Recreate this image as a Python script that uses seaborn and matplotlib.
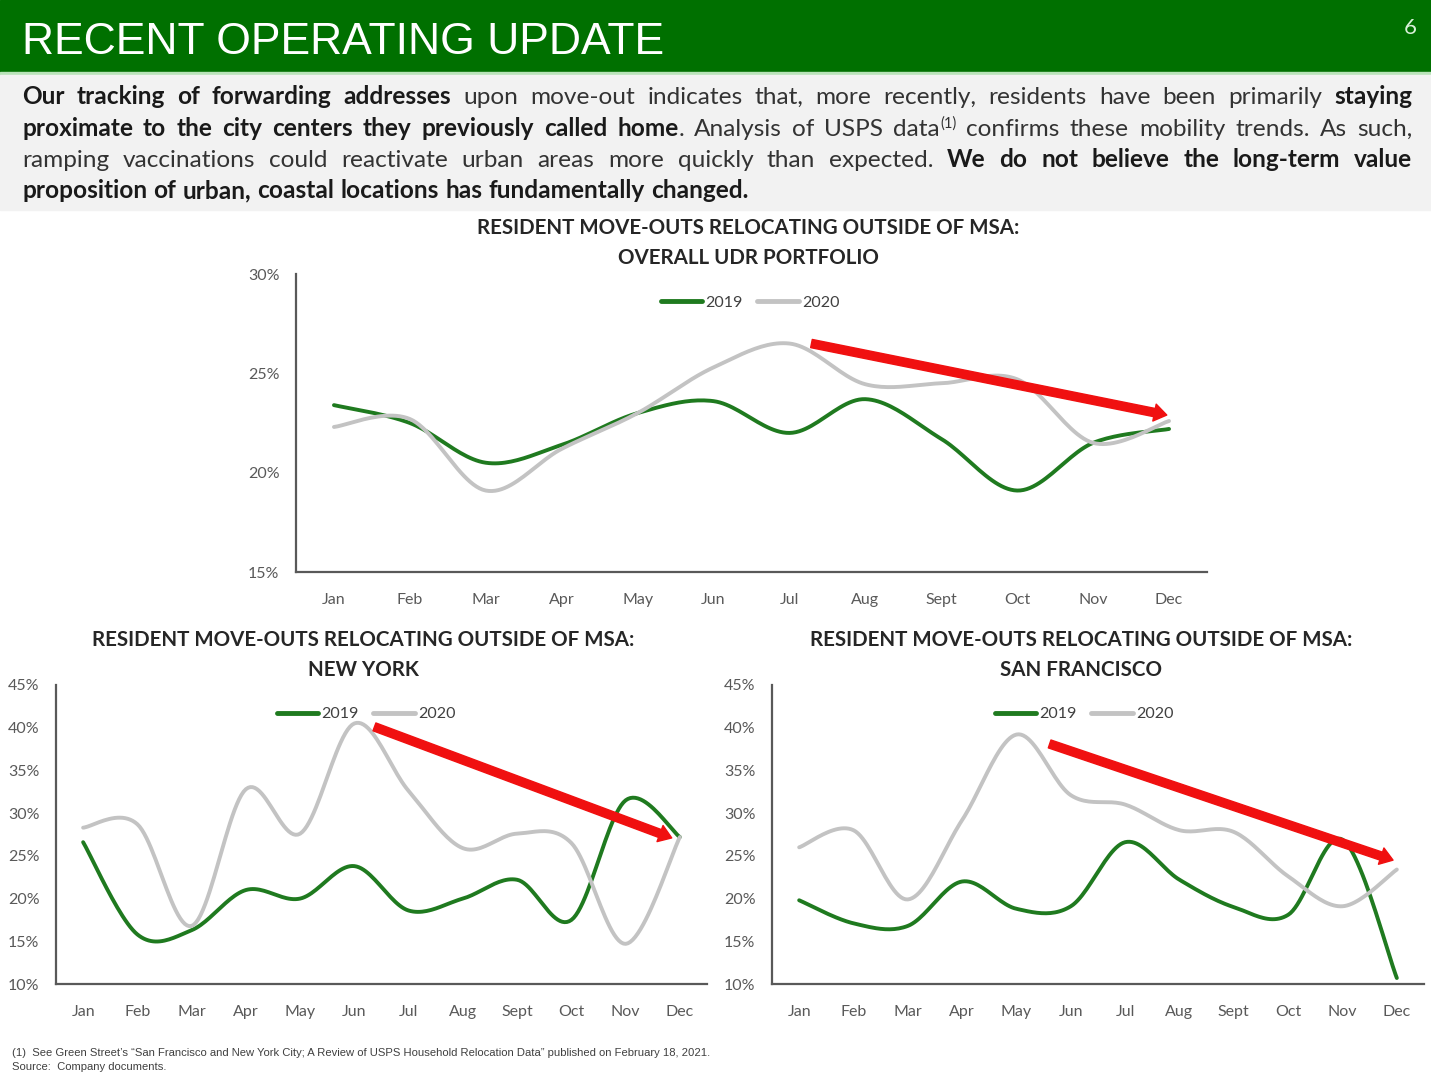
import numpy as np
import pandas as pd
import matplotlib.pyplot as plt
import seaborn as sns
from matplotlib.patches import Rectangle, FancyArrowPatch

sns.set_theme(style="white")
plt.rcParams['font.family'] = ['Lato', 'DejaVu Sans']

W, H = 1431, 1080
GREEN = '#1f7a1f'
GREY = '#c3c3c3'
HEADER = '#007000'

# Data, percent of move-outs leaving the MSA
months = ['Jan', 'Feb', 'Mar', 'Apr', 'May', 'Jun', 'Jul', 'Aug', 'Sept', 'Oct', 'Nov', 'Dec']
udr_2019 = [23.4, 22.5, 20.5, 21.4, 23.0, 23.6, 22.0, 23.7, 21.7, 19.1, 21.5, 22.2]
udr_2020 = [22.3, 22.7, 19.1, 21.2, 23.0, 25.3, 26.5, 24.45, 24.5, 24.7, 21.5, 22.6]
ny_2019 = [26.6, 15.8, 16.3, 21.0, 20.0, 23.8, 18.6, 20.0, 22.2, 17.5, 31.5, 27.2]
ny_2020 = [28.3, 28.7, 16.8, 32.8, 27.6, 40.5, 32.6, 25.9, 27.6, 26.5, 14.7, 27.2]
sf_2019 = [19.8, 17.1, 16.8, 22.0, 18.8, 19.1, 26.6, 22.2, 19.0, 18.1, 26.9, 10.7]
sf_2020 = [26.0, 28.0, 19.9, 29.2, 39.2, 32.1, 31.0, 28.0, 27.8, 22.6, 19.1, 23.4]
udr_yticks = [15, 20, 25, 30]
city_yticks = [10, 15, 20, 25, 30, 35, 40, 45]


def fx(px):
    return px / W


def fy(py):
    return 1 - py / H


def smooth(vals, n=24):
    # Excel-style smoothed line: cubic bezier through the points
    v = np.asarray(vals, float)
    x = np.arange(len(v), dtype=float)
    pv = np.concatenate([[v[0]], v, [v[-1]]])
    px = np.concatenate([[x[0]], x, [x[-1]]])
    t = np.linspace(0, 1, n, endpoint=False)[:, None]
    out_x, out_y = [], []
    for i in range(len(v) - 1):
        for p, arr in ((px, out_x), (pv, out_y)):
            a, d = p[i + 1], p[i + 2]
            b = a + (p[i + 2] - p[i]) / 6
            c = d - (p[i + 3] - p[i + 1]) / 6
            seg = (1 - t) ** 3 * a + 3 * (1 - t) ** 2 * t * b + 3 * (1 - t) * t ** 2 * c + t ** 3 * d
            arr.extend(seg.ravel())
    out_x.append(x[-1])
    out_y.append(v[-1])
    return np.array(out_x), np.array(out_y)


fig = plt.figure(figsize=(W / 100, H / 100), dpi=100)

# Header band and text box
fig.patches.append(Rectangle((0, fy(72)), 1, 72 / H, transform=fig.transFigure, color=HEADER, zorder=0))
fig.patches.append(Rectangle((0, fy(75)), 1, 3 / H, transform=fig.transFigure, color='#b9e3b9', zorder=0))
fig.patches.append(Rectangle((0, fy(210)), 1, 135 / H, transform=fig.transFigure, color='#f2f2f2', zorder=0))
fig.text(fx(22), fy(54), 'RECENT OPERATING UPDATE', family='Liberation Sans', fontsize=32,
         color='white', va='baseline', ha='left')
fig.text(fx(1410), fy(28), '6', fontsize=16, color='#d8f0d8', ha='center', va='center')

# Justified body text
body_lines = [
    ([('Our tracking of forwarding addresses', 'b'),
      (' upon move-out indicates that, more recently, residents have been primarily ', 'n'),
      ('staying', 'b')], True, 104),
    ([('proximate to the city centers they previously called home', 'b'),
      ('. Analysis of USPS data', 'n'), ('(1)', 's'),
      (' confirms these mobility trends. As such,', 'n')], True, 136),
    ([('ramping vaccinations could reactivate urban areas more quickly than expected. ', 'n'),
      ('We do not believe the long-term value', 'b')], True, 167),
    ([('proposition of urban, coastal locations has fundamentally changed.', 'b')], False, 198),
]
BODY_SIZE = 17.6
renderer = fig.canvas.get_renderer()


def piece_kw(style):
    if style == 'b':
        return dict(fontsize=BODY_SIZE, fontweight='bold', color='#1a1a1a')
    if style == 's':
        return dict(fontsize=10.5, color='#333333')
    return dict(fontsize=BODY_SIZE, color='#333333')


def to_words(runs):
    words = [[]]
    for text, style in runs:
        for k, part in enumerate(text.split(' ')):
            if k > 0:
                words.append([])
            if part:
                words[-1].append((part, style))
    return [w for w in words if w]


def text_width(s, **kw):
    t = fig.text(0, 0, s, **kw)
    w = t.get_window_extent(renderer).width
    t.remove()
    return w


x_left, x_right = 22, 1412
space_w = text_width('a b', **piece_kw('n')) - text_width('ab', **piece_kw('n'))
for runs, justify, base in body_lines:
    words = to_words(runs)
    widths = [[text_width(p, **piece_kw(st)) for p, st in w] for w in words]
    total = sum(sum(w) for w in widths)
    gap = (x_right - x_left - total) / (len(words) - 1) if justify else space_w
    x = x_left
    for w, ws in zip(words, widths):
        for (p, st), pw in zip(w, ws):
            y = base - 8 if st == 's' else base
            fig.text(fx(x), fy(y), p, ha='left', va='baseline', **piece_kw(st))
            x += pw
        x += gap


def draw_panel(rect, v19, v20, yticks, title, title_x, title_y, legend_xy, arrow):
    ax = fig.add_axes(rect)
    frames = []
    for year, vals in (('2019', v19), ('2020', v20)):
        xs, ys = smooth(vals)
        frames.append(pd.DataFrame({'month': xs, 'pct': ys, 'year': year}))
    df = pd.concat(frames, ignore_index=True)
    sns.lineplot(data=df, x='month', y='pct', hue='year', palette={'2019': GREEN, '2020': GREY},
                 linewidth=2.8, estimator=None, sort=False, ax=ax)
    sns.move_legend(ax, 'center', bbox_to_anchor=(fx(legend_xy[0]), fy(legend_xy[1])),
                    bbox_transform=fig.transFigure, ncol=2, frameon=False, title='',
                    fontsize=11.5, handlelength=2.6, handletextpad=0.2, columnspacing=0.9,
                    labelcolor='#404040')
    for line in ax.get_legend().get_lines():
        line.set_linewidth(3.5)
    ax.set_xlim(-0.5, 11.5)
    ax.set_ylim(yticks[0], yticks[-1])
    ax.set_xticks(range(12))
    ax.set_xticklabels(months)
    ax.set_yticks(yticks)
    ax.set_yticklabels([f'{t}%' for t in yticks])
    ax.set_xlabel('')
    ax.set_ylabel('')
    ax.tick_params(axis='both', length=0, labelsize=11.5, labelcolor='#595959')
    ax.tick_params(axis='x', pad=15)
    ax.tick_params(axis='y', pad=12)
    sns.despine(ax=ax)
    for s in ('left', 'bottom'):
        ax.spines[s].set_color('#595959')
        ax.spines[s].set_linewidth(1.6)
    ax.patch.set_alpha(0)
    # Red trend arrow
    ax.add_patch(FancyArrowPatch(arrow[0], arrow[1], arrowstyle='simple,head_length=0.45,head_width=0.62,tail_width=0.3',
                                 mutation_scale=20, color='#f01010', shrinkA=0, shrinkB=0, zorder=5))
    for i, line in enumerate(title.split('\n')):
        fig.text(fx(title_x), fy(title_y + 30 * i), line, ha='center', va='center',
                 fontsize=14.8, fontweight='bold', color='#262626')
    return ax


# Overall portfolio
draw_panel([fx(296), fy(572), (1207 - 296) / W, (572 - 274) / H], udr_2019, udr_2020, udr_yticks,
           'RESIDENT MOVE-OUTS RELOCATING OUTSIDE OF MSA:\nOVERALL UDR PORTFOLIO', 748, 228,
           (750, 303), ((6.29, 26.5), (10.97, 22.9)))

# New York
draw_panel([fx(56), fy(984), (707 - 56) / W, (984 - 685) / H], ny_2019, ny_2020, city_yticks,
           'RESIDENT MOVE-OUTS RELOCATING OUTSIDE OF MSA:\nNEW YORK', 363, 640,
           (366, 714), ((5.37, 40.1), (10.85, 27.1)))

# San Francisco
draw_panel([fx(772), fy(984), (1424 - 772) / W, (984 - 685) / H], sf_2019, sf_2020, city_yticks,
           'RESIDENT MOVE-OUTS RELOCATING OUTSIDE OF MSA:\nSAN FRANCISCO', 1081, 640,
           (1084, 714), ((4.61, 38.1), (10.93, 24.5)))

# Footnotes
fig.text(fx(12), fy(1056), '(1)  See Green Street\u2019s \u201cSan Francisco and New York City; A Review of USPS Household '
         'Relocation Data\u201d published on February 18, 2021.', family='Liberation Sans', fontsize=8.1,
         color='#404040', va='baseline')
fig.text(fx(12), fy(1070), 'Source:  Company documents.', family='Liberation Sans', fontsize=8.1,
         color='#404040', va='baseline')

fig.savefig('out.png', dpi=100)
